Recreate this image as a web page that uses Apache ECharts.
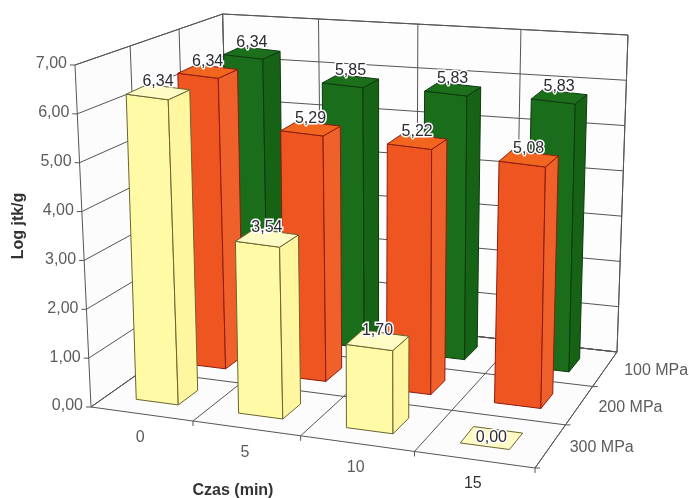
<!DOCTYPE html>
<html>
<head>
<meta charset="utf-8">
<style>html,body{margin:0;padding:0;background:#fff}#main{width:689px;height:498px}</style>
<script src="https://cdn.jsdelivr.net/npm/echarts@6/dist/echarts.min.js"></script>
</head>
<body>
<div id="main"></div>
<script>
var times = ['0', '5', '10', '15'];
var pressures = ['300 MPa', '200 MPa', '100 MPa'];
var valueTicks = [0, 1, 2, 3, 4, 5, 6, 7];
var values300 = [6.34, 3.54, 1.70, 0.00];
var values200 = [6.34, 5.29, 5.22, 5.08];
var values100 = [6.34, 5.85, 5.83, 5.83];

var FONT = '"Liberation Sans", Arial, sans-serif';
var BAR_W = 0.105, BAR_D = 0.13; // w ulamku dlugosci podlogi
var BAR_LEAN = 2;

// podloga w perspektywie: narozniki, zbieznosc krawedzi, wysokosc sciany w narozniku
var FL = [91, 407], FR = [535, 468], BR = [617, 352], BL = [230, 309];
var HEIGHTS = { fl: 342, fr: 350, br: 317, bl: 295 };
var VP = [392, 6838]; // zbieg pionow

function warp(t, k) {
	return t / (t + k * (1 - t));
}
function lerp(a, b, t) {
	return a + (b - a) * t;
}
function floorAt(u, v) {
	var sv = warp(v, 0.845);
	var su1 = warp(u, 1.118), su2 = warp(u, 1.073);
	var fx = lerp(FL[0], FR[0], su1), fy = lerp(FL[1], FR[1], su1);
	var bx = lerp(BL[0], BR[0], su2), by = lerp(BL[1], BR[1], su2);
	return [lerp(fx, bx, sv), lerp(fy, by, sv)];
}
function project(u, v, w) {
	var f = floorAt(u, v);
	var sv = warp(v, 0.845);
	var h = lerp(lerp(HEIGHTS.fl, HEIGHTS.fr, u), lerp(HEIGHTS.bl, HEIGHTS.br, u), sv) * w;
	return [f[0] - h * (VP[0] - f[0]) / (VP[1] - f[1]), f[1] - h];
}

function poly(points, fill, stroke) {
	return {
		type: 'polygon',
		shape: { points: points },
		style: { fill: fill, stroke: stroke, lineWidth: 1 }
	};
}
function line(a, b, color) {
	return {
		type: 'line',
		shape: { x1: a[0], y1: a[1], x2: b[0], y2: b[1] },
		style: { stroke: color, lineWidth: 1, fill: null }
	};
}
function label(text, x, y, opt) {
	opt = opt || {};
	return {
		type: 'text',
		x: x,
		y: y,
		rotation: opt.rotation || 0,
		style: {
			text: text,
			font: (opt.weight || 'normal') + ' ' + (opt.size || 16) + 'px ' + FONT,
			fill: opt.color || '#5c5c5c',
			align: opt.align || 'center',
			verticalAlign: 'middle',
			stroke: opt.halo ? '#fff' : null,
			lineWidth: opt.halo ? 3 : 0
		}
	};
}

function renderFrame(params, api) {
	var c = [];
	var lineColor = '#555';
	c.push(poly([project(0, 0, 0), project(0, 1, 0), project(0, 1, 1), project(0, 0, 1)], '#fcfcfd', lineColor));
	c.push(poly([project(0, 1, 0), project(1, 1, 0), project(1, 1, 1), project(0, 1, 1)], '#fdfdfe', lineColor));
	c.push(poly([project(0, 0, 0), project(1, 0, 0), project(1, 1, 0), project(0, 1, 0)], '#fcfcfc', lineColor));

	// linie wartosci i podzialka na lewej osi
	valueTicks.forEach(function (tick) {
		var w = 1 - (api.coord([0, tick])[1] - params.coordSys.y) / params.coordSys.height;
		var a = project(0, 0, w), b = project(0, 1, w), d = project(1, 1, w);
		c.push(line(a, b, lineColor), line(b, d, lineColor));
		c.push(line(a, [a[0] - 5, a[1]], lineColor));
		c.push(label(tick.toFixed(2).replace('.', ','), a[0] - 8, a[1] - 1, { align: 'right' }));
	});

	// podzial wg czasu
	times.forEach(function (name, i) {
		var u = (i + 1) / times.length;
		c.push(line(project(u, 0, 0), project(u, 1, 0), lineColor));
		c.push(line(project(u, 1, 0), project(u, 1, 1), lineColor));
		var t = project(u, 0, 0);
		c.push(line(t, [t[0], t[1] + 5], lineColor));
		var m = project((i + 0.5) / times.length, 0, 0);
		c.push(label(name, m[0] - 1, m[1] + 24, { color: i == 3 ? '#333' : '#5c5c5c' }));
	});

	// podzial wg cisnienia
	pressures.forEach(function (name, i) {
		var v = (i + 1) / pressures.length;
		c.push(line(project(0, v, 0), project(1, v, 0), lineColor));
		c.push(line(project(0, v, 0), project(0, v, 1), lineColor));
		var e = project(1, i / pressures.length, 0);
		c.push(line(e, [e[0] + 5, e[1]], lineColor));
		var m = project(1, (i + 0.5) / pressures.length, 0);
		c.push(label(name, m[0] + 19, m[1] + 2, { align: 'left' }));
	});

	c.push(label('Log jtk/g', 19, 226, { rotation: Math.PI / 2, weight: 'bold', size: 16, color: '#333' }));
	c.push(label('Czas (min)', 233, 491, { weight: 'bold', size: 16, color: '#333' }));
	return { type: 'group', children: c };
}

function barRenderer(row, colors) {
	return function (params, api) {
		var cs = params.coordSys;
		var val = api.value(1);
		var pt = api.coord([api.value(0), val]);
		var u = (pt[0] - cs.x) / cs.width;
		var w = (cs.y + cs.height - pt[1]) / cs.height;
		var v = (row + 0.5) / pressures.length;
		var base = floorAt(u, v);
		// krawedzie slupka rownolegle, u gory glebokosc bardziej splaszczona
		function corner(du, dv, h) {
			var fu = floorAt(u + du * BAR_W / 2, v);
			var fv = floorAt(u, v + dv * BAR_D / 2);
			var p = project(u, v, h);
			return [
				p[0] + fu[0] - base[0] + (fv[0] - base[0]) * (1 + 0.12 * h) + BAR_LEAN * (1 - u) * h,
				p[1] + fu[1] - base[1] + (fv[1] - base[1]) * (1 - 0.35 * h)
			];
		}
		var c = [];
		if (val > 0) {
			c.push(poly([corner(-1, -1, 0), corner(1, -1, 0), corner(1, -1, w), corner(-1, -1, w)], colors.front, colors.edge));
			c.push(poly([corner(1, -1, 0), corner(1, 1, 0), corner(1, 1, w), corner(1, -1, w)], colors.side, colors.edge));
		}
		c.push(poly([corner(-1, -1, w), corner(1, -1, w), corner(1, 1, w), corner(-1, 1, w)], colors.top, colors.edge));
		var mid = corner(0, 0, w);
		c.push(label(val.toFixed(2).replace('.', ','), mid[0], mid[1] - (val > 0 ? 10 : 0), { color: '#2b2b33', halo: true }));
		return { type: 'group', children: c };
	};
}

function barData(values) {
	return values.map(function (val, i) { return [i, val]; });
}

var yellow = { front: '#fffaa6', side: '#fff6a0', top: '#fffbc4', edge: '#6a6430' };
var orange = { front: '#ee5521', side: '#f0602a', top: '#f2651f', edge: '#8c1c10' };
var green = { front: '#1a6d1a', side: '#176316', top: '#1c701c', edge: '#0e3a10' };

var myChart = echarts.init(document.getElementById('main'));
var option = {
	animation: false,
	grid: { left: 0, top: 0, width: 400, height: 400 },
	xAxis: { type: 'category', data: times, show: false },
	yAxis: { type: 'value', min: 0, max: 7, interval: 1, show: false },
	series: [
		{ type: 'custom', silent: true, data: [[0, 0]], renderItem: renderFrame, clip: false },
		{ type: 'custom', name: pressures[2], data: barData(values100), renderItem: barRenderer(2, green), clip: false },
		{ type: 'custom', name: pressures[1], data: barData(values200), renderItem: barRenderer(1, orange), clip: false },
		{ type: 'custom', name: pressures[0], data: barData(values300), renderItem: barRenderer(0, yellow), clip: false }
	]
};
myChart.setOption(option);
</script>
</body>
</html>
